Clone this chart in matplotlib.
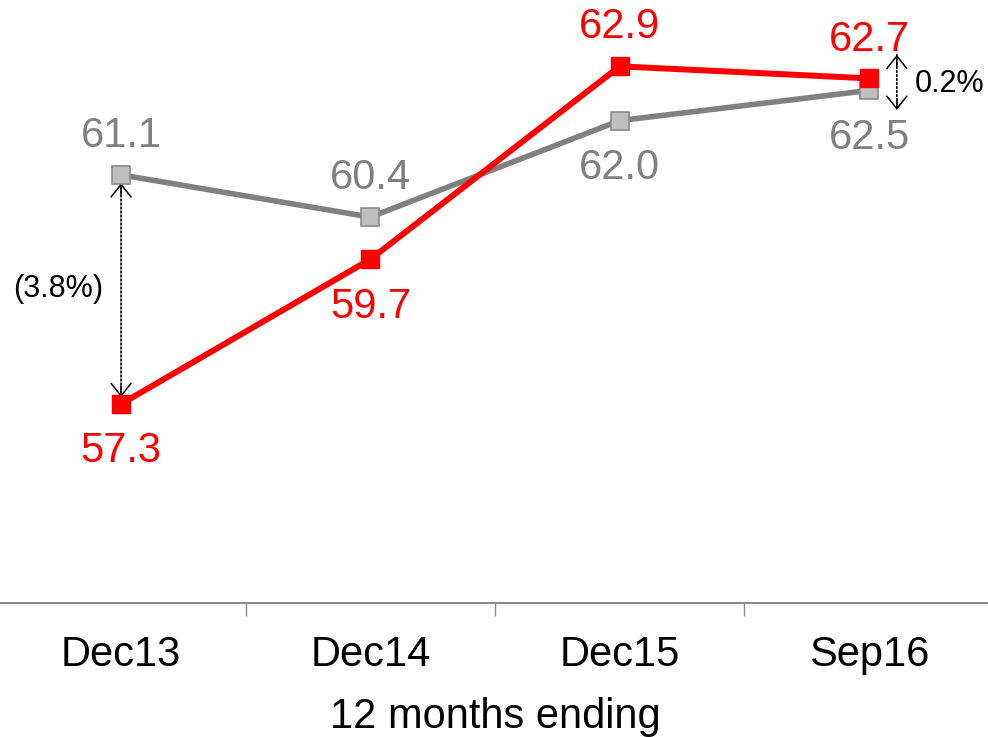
import matplotlib
matplotlib.use("Agg")
import matplotlib.pyplot as plt
from matplotlib.transforms import ScaledTranslation

plt.rcParams["font.family"] = ["Liberation Sans", "DejaVu Sans"]

# Data
periods = ["Dec13", "Dec14", "Dec15", "Sep16"]
company = [57.3, 59.7, 62.9, 62.7]
market = [61.1, 60.4, 62.0, 62.5]
company_label_pos = ["below", "below", "above", "above"]
market_label_pos = ["above", "above", "below", "below"]
gap_labels = ["(3.8%)", "0.2%"]
x_title = "12 months ending"

RED = "#FF0000"
GREY_LINE = "#808080"
GREY_FACE = "#BFBFBF"
GREY_EDGE = "#8C8C8C"

fig = plt.figure(figsize=(9.88, 7.37), dpi=100)
ax = fig.add_axes([-3.6 / 988, 134 / 737, 997.3 / 988, 603 / 737])

x = list(range(len(periods)))
ax.plot(x, market, color=GREY_LINE, lw=4.0, marker="s", ms=12.5,
        mfc=GREY_FACE, mec=GREY_EDGE, mew=1.2, zorder=3)
ax.plot(x, company, color=RED, lw=4.3, marker="s", ms=13,
        mfc=RED, mec=RED, zorder=4)

ax.set_xlim(-0.5, len(periods) - 0.5)
ax.set_ylim(54, 64)


def value_labels(values, positions, color):
    for xi, v, pos in zip(x, values, positions):
        dy = 28 if pos == "above" else -34
        ax.annotate(f"{v:.1f}", (xi, v), xytext=(0, dy),
                    textcoords="offset points", ha="center", va="center",
                    fontsize=30, color=color, zorder=5)


value_labels(company, company_label_pos, RED)
value_labels(market, market_label_pos, GREY_LINE)


def offset(dx, dy):
    return ax.transData + ScaledTranslation(dx / 72, dy / 72, fig.dpi_scale_trans)


def gap_arrow(xi, y_low, y_high, dx, pad_low, pad_high):
    """Dotted double-headed arrow with open solid heads."""
    low = offset(dx, pad_low)
    high = offset(dx, pad_high)
    ax.annotate("", xy=(xi, y_low), xycoords=low,
                xytext=(xi, y_high), textcoords=high,
                arrowprops=dict(arrowstyle="-", color="black", lw=1.2,
                                ls=(0, (1, 1.4)), shrinkA=0, shrinkB=0),
                zorder=2)
    head = dict(arrowstyle="->,head_length=0.45,head_width=0.36",
                color="black", lw=1.1, mutation_scale=20,
                shrinkA=0, shrinkB=0)
    ax.annotate("", xy=(xi, y_low), xycoords=low,
                xytext=(xi, y_low), textcoords=offset(dx, pad_low + 8),
                arrowprops=head, zorder=2)
    ax.annotate("", xy=(xi, y_high), xycoords=high,
                xytext=(xi, y_high), textcoords=offset(dx, pad_high - 8),
                arrowprops=head, zorder=2)


# Gap at the first period, between the two markers
gap_arrow(0, company[0], market[0], 0, 5, -6)
ax.annotate(gap_labels[0], xy=(0, (company[0] + market[0]) / 2),
            xycoords=offset(-13, 0), ha="right", va="center", fontsize=22)

# Gap at the last period, drawn beside the markers
gap_arrow(3, market[3], company[3], 20, -14, 17)
ax.annotate(gap_labels[1], xy=(3, (company[3] + market[3]) / 2),
            xycoords=offset(33, 0), ha="left", va="center", fontsize=22)

# Axes styling
for side in ("left", "right", "top"):
    ax.spines[side].set_visible(False)
ax.spines["bottom"].set_color("#8C8C8C")
ax.spines["bottom"].set_linewidth(1.5)
ax.set_yticks([])
ax.set_xticks(x)
ax.set_xticklabels(periods, fontsize=30)
ax.tick_params(axis="x", which="major", length=0, pad=23)
ax.set_xticks([i + 0.5 for i in x[:-1]], minor=True)
ax.tick_params(axis="x", which="minor", length=9, width=1, color="#8C8C8C",
               direction="out")
ax.set_xlabel(x_title, fontsize=30, labelpad=16)

fig.savefig("out.png", dpi=100)
